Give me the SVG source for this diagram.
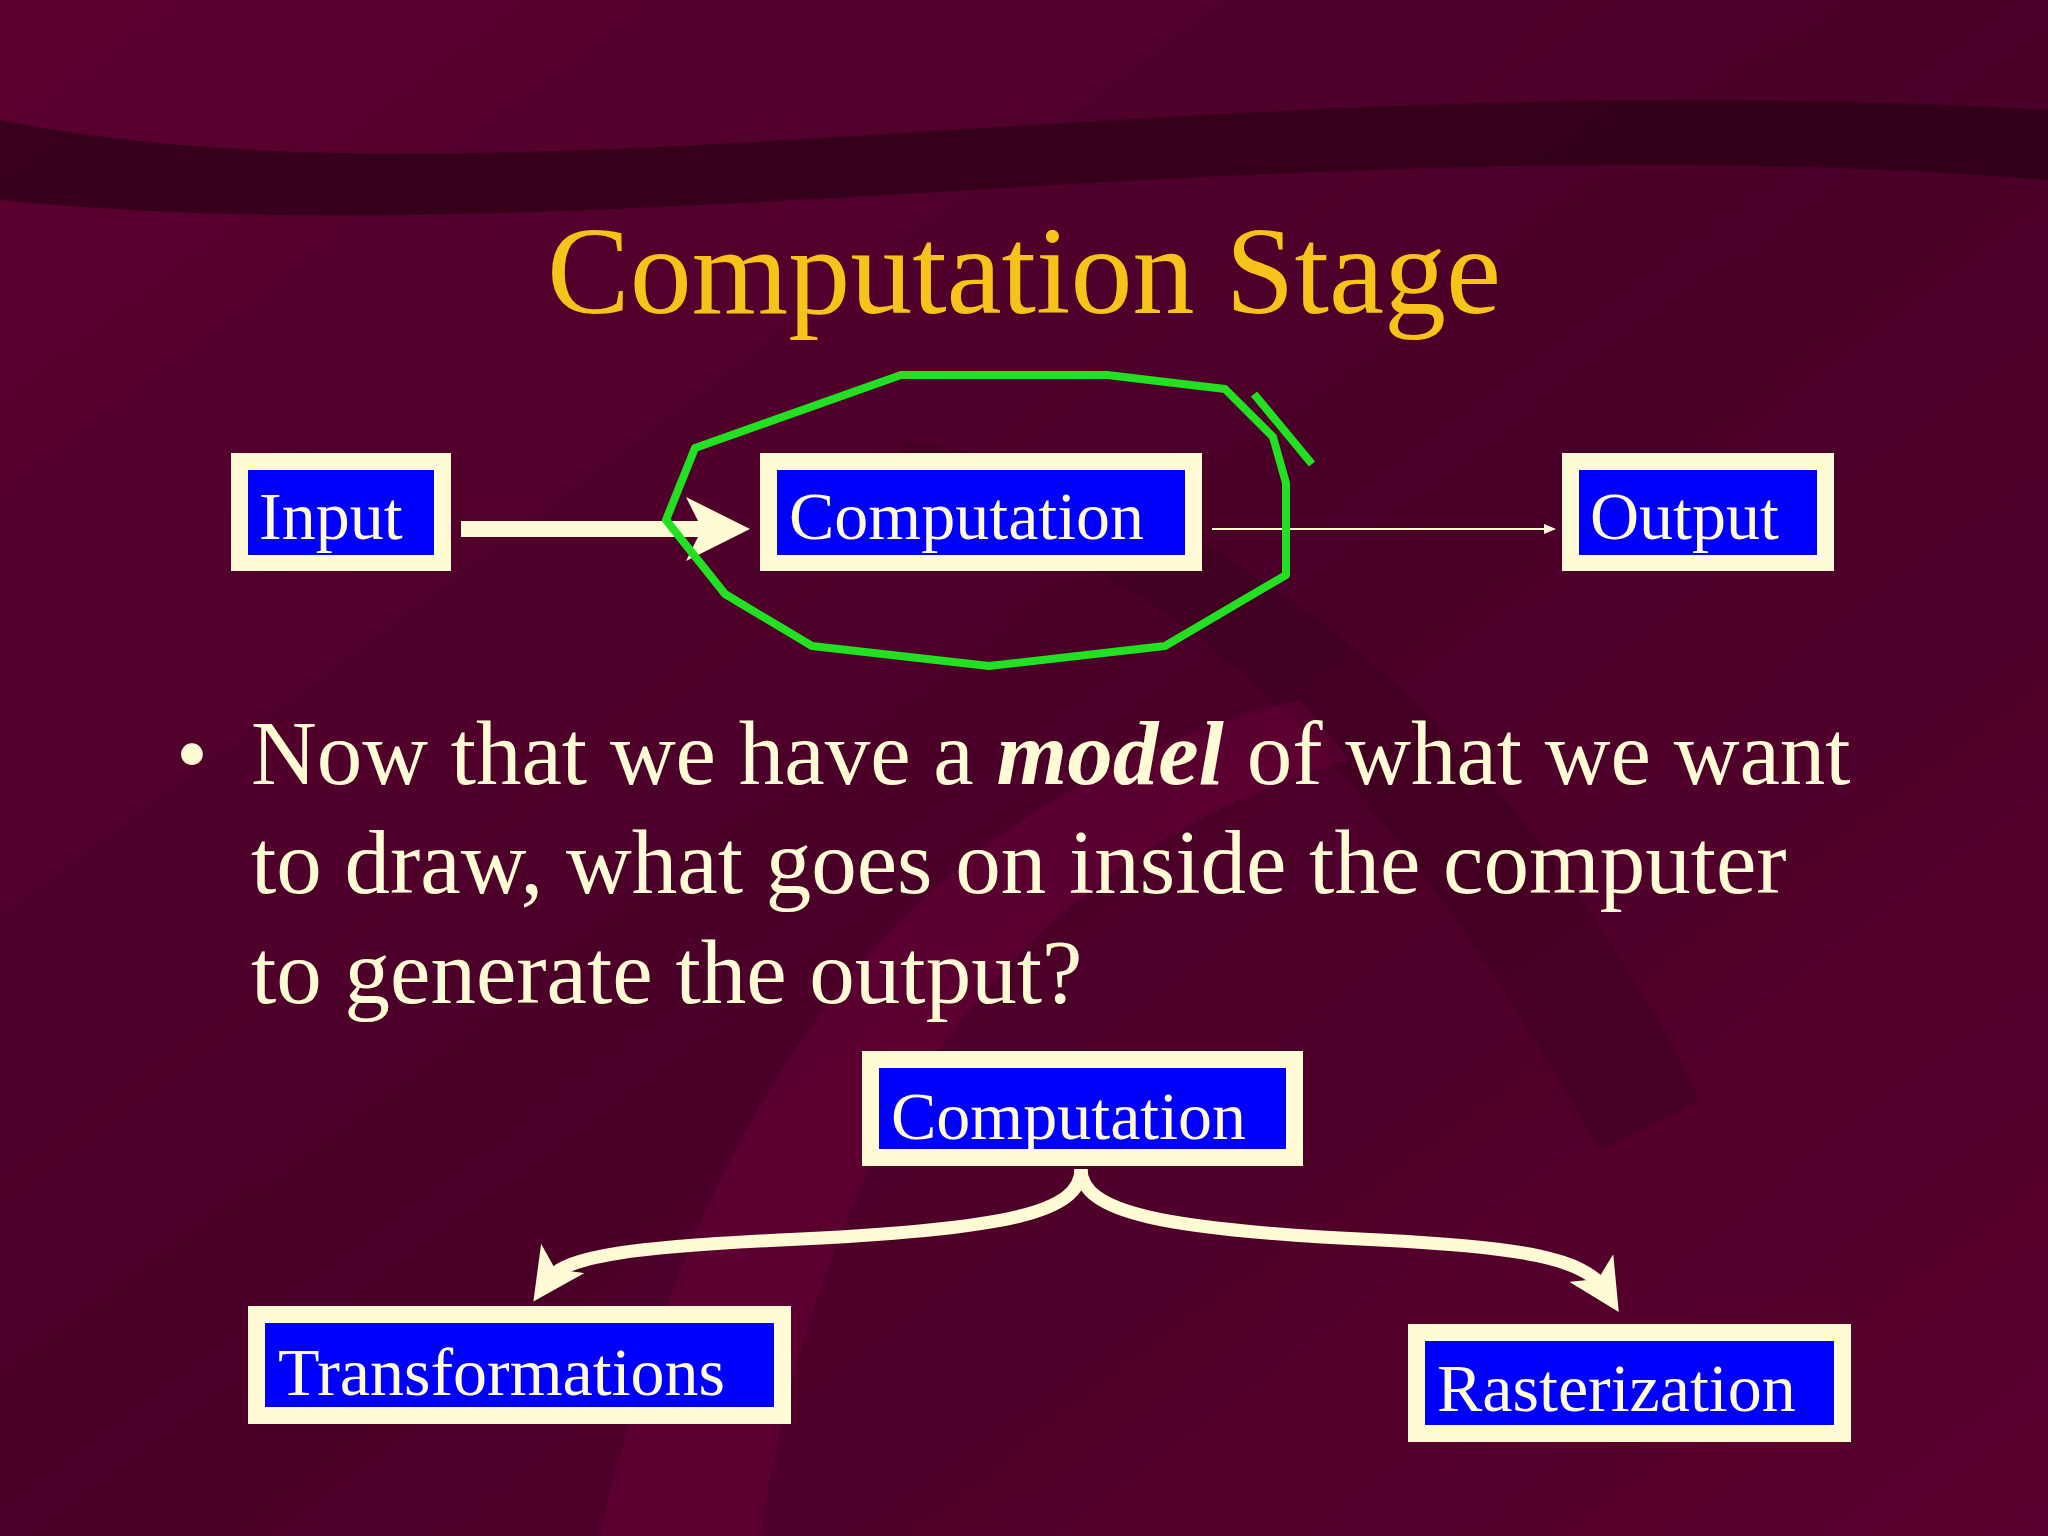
<svg xmlns="http://www.w3.org/2000/svg" width="2048" height="1536" viewBox="0 0 2048 1536">
<defs>
<linearGradient id="bg" x1="0" y1="0" x2="1" y2="1">
<stop offset="0" stop-color="#5c0030"/><stop offset="0.5" stop-color="#4a0028"/><stop offset="1" stop-color="#5a002e"/>
</linearGradient>
<marker id="hw" markerWidth="4" markerHeight="4" refX="2" refY="2" orient="auto" markerUnits="strokeWidth"><path d="M0,0 L4,2 L0,4 L1,2 Z" fill="#fffbd5"/></marker>
<marker id="ht" markerWidth="12" markerHeight="10" refX="10" refY="5" orient="auto" markerUnits="userSpaceOnUse"><path d="M0,0 L12,5 L0,10 Z" fill="#fffbd5"/></marker>
</defs>
<style>
.ob{fill:#fffbd5}.ib{fill:#0000ff}
.lb{font-family:"Liberation Serif",serif;font-size:68px;fill:#fffbd5}
.bt{font-family:"Liberation Serif",serif;font-size:91px;fill:#fffbd5}
.cn{fill:none;stroke:#fffbd5}
</style>
<rect width="2048" height="1536" fill="url(#bg)"/>
<path d="M0,120 C500,220 1200,60 2048,110 L2048,180 C1300,120 600,260 0,200 Z" fill="#2a0014" opacity="0.7"/>
<path d="M900,440 C1200,480 1500,700 1700,1100 L1600,1150 C1400,800 1200,560 900,500 Z" fill="#3a001c" opacity="0.5"/>
<path d="M600,1536 C700,1100 900,800 1300,700 L1350,760 C1000,860 820,1150 760,1536 Z" fill="#6a0038" opacity="0.5"/>
<text x="1024" y="313" text-anchor="middle" font-family="Liberation Serif,serif" font-size="124" fill="#f7c21a">Computation Stage</text>
<g id="input"><rect class="ob" x="231" y="453" width="220" height="118"/><rect class="ib" x="248" y="470" width="186" height="85"/><text class="lb" x="259" y="539">Input</text></g>
<g id="computation"><rect class="ob" x="760" y="453" width="442" height="118"/><rect class="ib" x="777" y="470" width="408" height="85"/><text class="lb" x="789" y="539">Computation</text></g>
<g id="output"><rect class="ob" x="1562" y="453" width="272" height="118"/><rect class="ib" x="1579" y="470" width="238" height="85"/><text class="lb" x="1590" y="539">Output</text></g>
<g id="computation2"><rect class="ob" x="862" y="1051" width="441" height="115"/><rect class="ib" x="879" y="1068" width="407" height="81"/><text class="lb" x="891" y="1139">Computation</text></g>
<g id="transformations"><rect class="ob" x="248" y="1306" width="543" height="118"/><rect class="ib" x="265" y="1323" width="509" height="84"/><text class="lb" x="278" y="1395">Transformations</text></g>
<g id="rasterization"><rect class="ob" x="1408" y="1324" width="443" height="118"/><rect class="ib" x="1425" y="1341" width="409" height="84"/><text class="lb" x="1437" y="1411">Rasterization</text></g>
<g id="connectors">
<line class="cn" x1="461" y1="529" x2="718" y2="529" stroke-width="16" marker-end="url(#hw)"/>
<line class="cn" x1="1212" y1="529" x2="1554" y2="529" stroke-width="2" marker-end="url(#ht)"/>
<path class="cn" stroke-width="13" d="M1081,1169 C1081,1212 1010,1230 780,1240 C640,1247 565,1255 548,1280" marker-end="url(#hw)"/>
<path class="cn" stroke-width="13" d="M1081,1169 C1081,1212 1160,1230 1380,1240 C1520,1247 1585,1258 1605,1290" marker-end="url(#hw)"/>
</g>
<g id="highlight" fill="none" stroke="#22e022" stroke-width="8" stroke-linejoin="round">
<polygon points="901,375 1107,375 1225,389 1273,437 1286,483 1286,575 1165,646 989,666 812,646 725,594 666,520 695,448"/>
<line x1="1254" y1="394" x2="1312" y2="464"/>
</g>
<g id="bullet">
<text class="bt" x="176" y="784">•</text>
<text class="bt" x="251" y="784">Now that we have a <tspan font-weight="bold" font-style="italic">model</tspan> of what we want</text>
<text class="bt" x="251" y="893">to draw, what goes on inside the computer</text>
<text class="bt" x="251" y="1003">to generate the output?</text>
</g>
</svg>
